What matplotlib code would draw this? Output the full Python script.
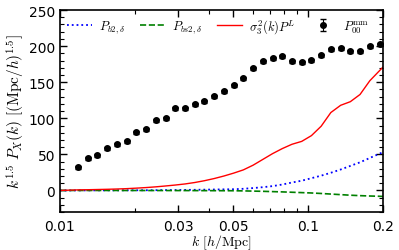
import numpy as np
import matplotlib
matplotlib.use("Agg")
import matplotlib.pyplot as plt
from matplotlib.ticker import FixedLocator, FixedFormatter, MultipleLocator, NullFormatter

plt.rcParams['mathtext.fontset'] = 'cm'

# data points P_00^mm
k_data = [0.01183, 0.01295, 0.01417, 0.01550, 0.01697, 0.01857, 0.02032, 0.02224,
          0.02434, 0.02663, 0.02915, 0.03190, 0.03491, 0.03820, 0.04181, 0.04575,
          0.05007, 0.05479, 0.05996, 0.06562, 0.07181, 0.07858, 0.08600, 0.09411,
          0.1030, 0.1127, 0.1233, 0.1350, 0.1477, 0.1616, 0.1769, 0.1936]
p00 = [31.9, 44.4, 48.6, 58.3, 63.9, 68.1, 80.6, 84.7, 97.2, 100.0, 113.9, 113.9,
       119.4, 123.6, 130.6, 137.5, 145.8, 155.6, 169.4, 179.2, 183.3, 186.1, 179.2,
       177.8, 180.6, 187.5, 195.8, 197.2, 193.1, 193.1, 200.0, 202.8]
p00_err = [2.0] * len(p00)

# curves
k_curve = [0.01] + k_data + [0.2]
sigma3_pl = [0.0, 0.8, 1.0, 1.3, 1.6, 2.0, 2.5, 3.2, 4.0, 5.0, 6.2, 7.5, 9.0, 11.0, 13.5,
             16.5, 20.0, 24.0, 28.5, 35.0, 43.0, 51.0, 58.0, 64.0, 68.0, 76.0, 89.0,
             108.0, 118.0, 123.0, 133.0, 152.0, 166.0, 171.0]
pb2 = [0.0, 0.05, 0.07, 0.1, 0.12, 0.15, 0.2, 0.25, 0.3, 0.4, 0.5, 0.6, 0.75, 0.9, 1.1,
       1.3, 1.5, 1.7, 2.3, 3.3, 4.5, 6.0, 8.2, 11.0, 13.5, 17.0, 20.5, 24.5, 29.0, 34.0,
       39.0, 45.0, 51.0, 53.0]
pbs2 = [0.0, 0.0, 0.0, 0.0, 0.0, 0.0, -0.05, -0.05, -0.1, -0.1, -0.1, -0.15, -0.15, -0.2,
        -0.25, -0.3, -0.35, -0.4, -0.6, -0.9, -1.2, -1.6, -2.0, -2.5, -3.0, -3.5, -4.2,
        -5.0, -5.8, -6.6, -7.2, -7.7, -8.1, -8.3]

fig = plt.figure(figsize=(3.99, 2.51), dpi=100)
ax = fig.add_axes([0.150, 0.151, 0.810, 0.805])

ax.plot(k_curve, pb2, color='blue', ls=':', lw=1.3, label=r'$P_{b2,\delta}$')
ax.plot(k_curve, pbs2, color='green', ls='--', lw=1.2, label=r'$P_{bs2,\delta}$')
ax.plot(k_curve, sigma3_pl, color='red', ls='-', lw=1.0, label=r'$\sigma_3^2(k)P^L$')
ax.errorbar(k_data, p00, yerr=p00_err, fmt='o', color='black', ms=4.0, capsize=2,
            elinewidth=0.8, label=r'$P_{00}^{\rm mm}$')

ax.set_xscale('log')
ax.set_xlim(0.01, 0.2)
ax.set_ylim(-30, 250)

ax.xaxis.set_major_locator(FixedLocator([0.01, 0.03, 0.05, 0.1, 0.2]))
ax.xaxis.set_major_formatter(FixedFormatter(['0.01', '0.03', '0.05', '0.1', '0.2']))
ax.xaxis.set_minor_locator(FixedLocator([0.02, 0.04, 0.06, 0.07, 0.08, 0.09]))
ax.xaxis.set_minor_formatter(NullFormatter())
ax.yaxis.set_major_locator(MultipleLocator(50))
ax.yaxis.set_minor_locator(MultipleLocator(10))

ax.tick_params(which='both', direction='in', top=True, right=True, labelsize=10)
ax.tick_params(which='major', length=5, width=1)
ax.tick_params(which='minor', length=3, width=0.8)
ax.tick_params(axis='x', pad=5)
for s in ax.spines.values():
    s.set_linewidth(1.2)

ax.set_xlabel(r'$k\ [h/{\rm Mpc}]$', fontsize=10)
ax.xaxis.set_label_coords(0.5, -0.10)
ax.set_ylabel(r'$k^{1.5}\ P_X(k)\ [({\rm Mpc}/h)^{1.5}]$', fontsize=11)
ax.yaxis.set_label_coords(-0.102, 0.5)

ax.legend(loc='upper left', bbox_to_anchor=(0.0, 1.0), ncol=4, frameon=False, fontsize=9,
          handlelength=2.0, columnspacing=1.15, handletextpad=0.6, borderaxespad=0.15)

fig.savefig('out.png', dpi=100)
